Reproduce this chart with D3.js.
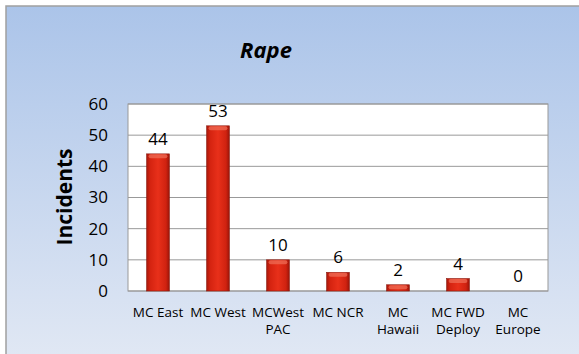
<!DOCTYPE html>
<html><head><meta charset="utf-8">
<script src="https://cdn.jsdelivr.net/npm/d3@7"></script>
<style>body{margin:0;background:#fff}svg{display:block}text{font-family:"Open Sans",Lato,sans-serif}</style>
</head><body>
<script>
const categories = [["MC East"],["MC West"],["MCWest","PAC"],["MC NCR"],["MC","Hawaii"],["MC FWD","Deploy"],["MC","Europe"]];
const values = [44,53,10,6,2,4,0];
const yTicks = [0,10,20,30,40,50,60];
const title = "Rape";
const yLabel = "Incidents";

const W=579,H=354;
const svg=d3.select("body").append("svg").attr("width",W).attr("height",H);
const defs=svg.append("defs");
const bg=defs.append("linearGradient").attr("id","bg").attr("x1",0).attr("y1",0).attr("x2",0).attr("y2",1);
bg.append("stop").attr("offset","0").attr("stop-color","#abc4e9");
bg.append("stop").attr("offset","1").attr("stop-color","#e1e8f4");
const bar=defs.append("linearGradient").attr("id","bar").attr("x1",0).attr("y1",0).attr("x2",1).attr("y2",0);
bar.append("stop").attr("offset","0").attr("stop-color","#a8170a");
bar.append("stop").attr("offset","0.15").attr("stop-color","#d42310");
bar.append("stop").attr("offset","0.5").attr("stop-color","#e8301a");
bar.append("stop").attr("offset","0.85").attr("stop-color","#d02210");
bar.append("stop").attr("offset","1").attr("stop-color","#9a1408");

svg.append("rect").attr("x",6).attr("y",6).attr("width",W).attr("height",H).attr("fill","url(#bg)").attr("stroke","#a0a0a0").attr("stroke-width",1.5);

const L=128,R=548,T=104,B=291;
const x=d3.scaleBand().domain(d3.range(categories.length)).range([L,R]).paddingInner(0.62).paddingOuter(0.31);
const y=d3.scaleLinear().domain([0,60]).range([B,T]);

svg.append("rect").attr("x",L).attr("y",T).attr("width",R-L).attr("height",B-T).attr("fill","#fff").attr("stroke","#999");
svg.append("g").selectAll("line").data(yTicks).join("line")
 .attr("x1",L).attr("x2",R).attr("y1",d=>y(d)).attr("y2",d=>y(d)).attr("stroke","#999").attr("stroke-width",1);

const yAxis=svg.append("g").attr("transform",`translate(${L},0)`).call(d3.axisLeft(y).tickValues(yTicks).tickSize(0).tickPadding(20));
yAxis.select(".domain").remove();
yAxis.selectAll("text").attr("font-size",17).attr("fill","#000").style("font-family","'Open Sans',Lato,sans-serif");

const g=svg.append("g");
values.forEach((v,i)=>{
  const h=B-y(v);
  if(h>0){
    g.append("rect").attr("x",x(i)).attr("y",y(v)).attr("width",x.bandwidth()).attr("height",h).attr("fill","url(#bar)").attr("stroke","#8a1a10").attr("stroke-width",0.6);
    g.append("rect").attr("x",x(i)+2).attr("y",y(v)+0.5).attr("width",x.bandwidth()-4).attr("height",Math.min(4,h-1)).attr("fill","#f0705a").attr("opacity",0.7).attr("rx",2);
  }
  g.append("text").attr("x",x(i)+x.bandwidth()/2).attr("y",y(v)-9).attr("text-anchor","middle").attr("font-size",17).text(v);
  const t=g.append("text").attr("x",x(i)+x.bandwidth()/2).attr("y",B+26).attr("text-anchor","middle").attr("font-size",13.5);
  categories[i].forEach((s,j)=>t.append("tspan").attr("x",x(i)+x.bandwidth()/2).attr("dy",j?17:0).text(s));
});

svg.append("text").attr("x",266).attr("y",58).attr("text-anchor","middle").attr("font-size",22).attr("font-weight","bold").attr("font-style","italic").text(title);
svg.append("text").attr("transform","translate(72,197) rotate(-90)").attr("text-anchor","middle").attr("font-size",21).attr("font-weight","bold").text(yLabel);
</script>
</body></html>
